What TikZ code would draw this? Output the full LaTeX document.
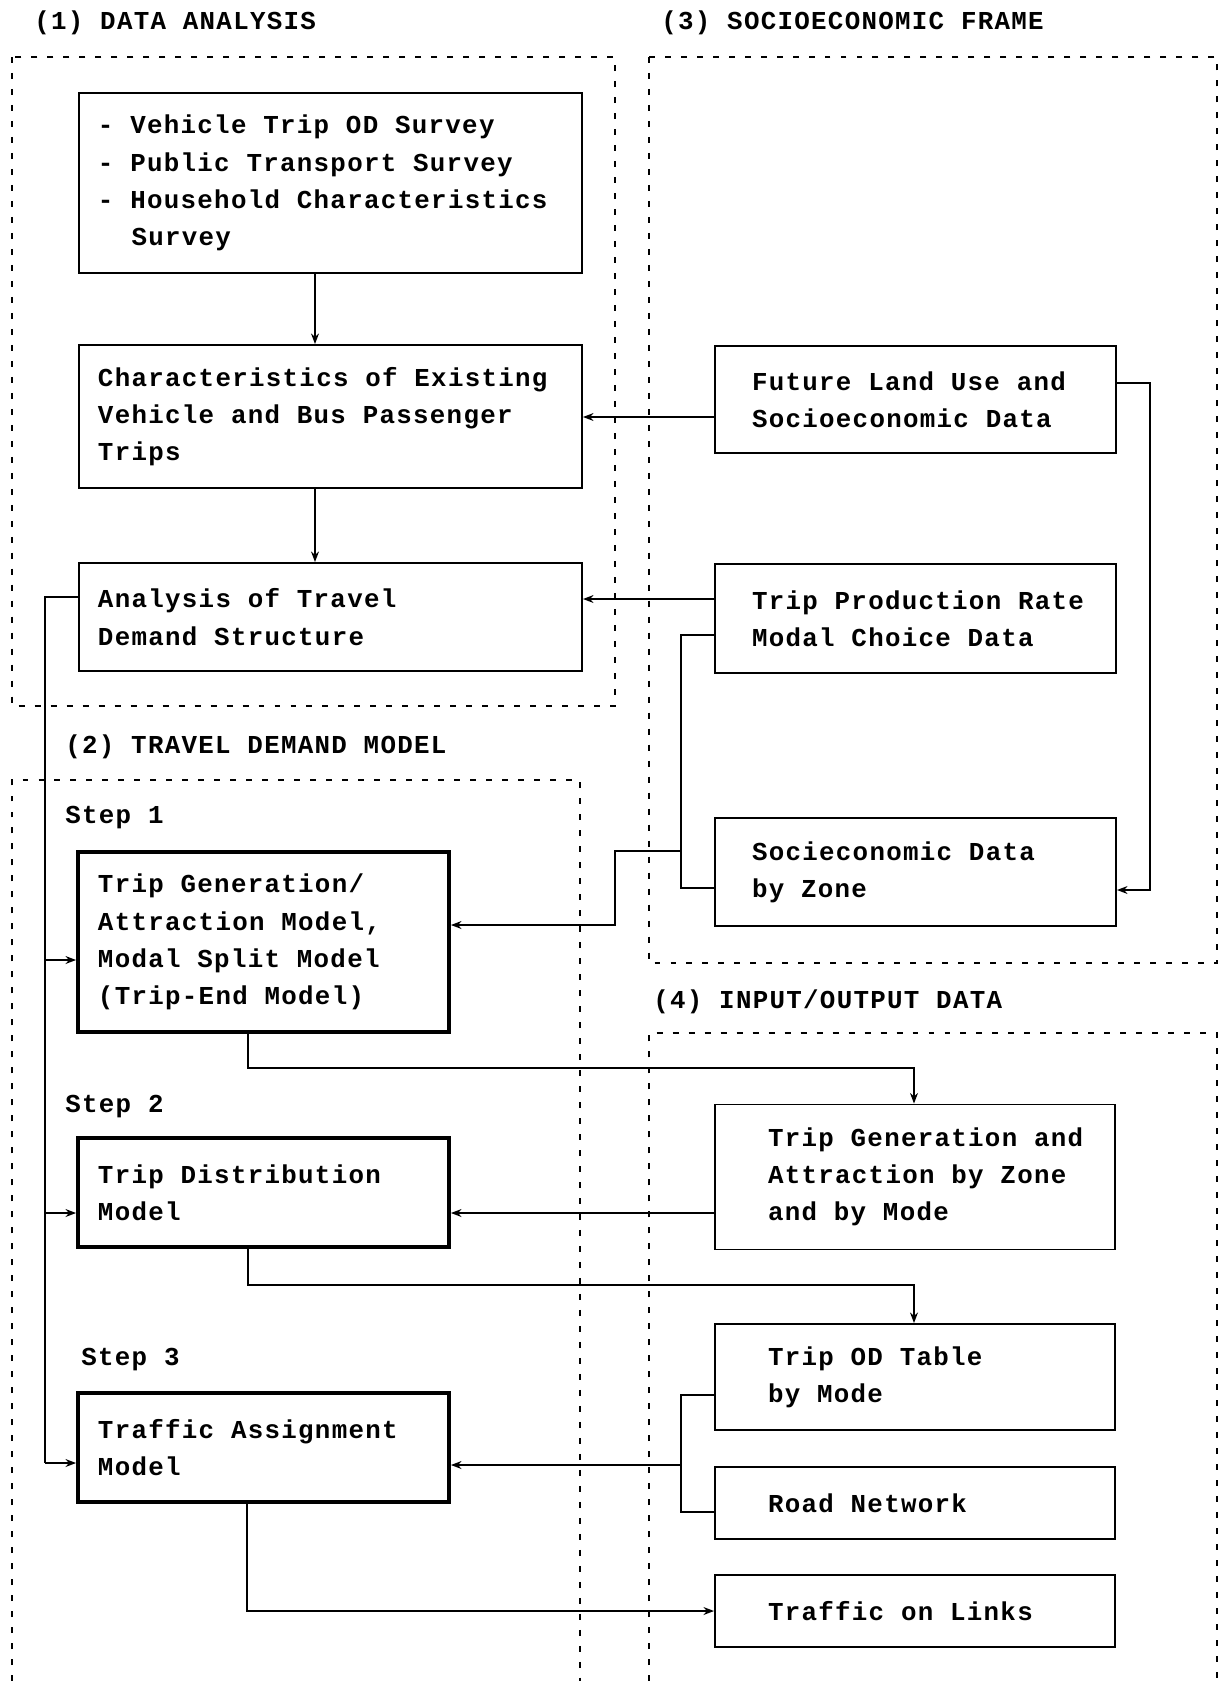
\documentclass[tikz,border=0pt]{standalone}
\usepackage{fontspec}
\newfontfamily\lpfont[LetterSpace=5.0]{Liberation Mono}
\usetikzlibrary{arrows.meta}

\begin{document}
\begin{tikzpicture}[
  font=\lpfont\bfseries\fontsize{14.7pt}{21.2pt}\selectfont,
  >={Stealth[length=6pt,width=4.5pt]},
  pad/.style={execute at begin node={\leftskip=#1\spaceskip=\fontdimen2\font\xspaceskip=\fontdimen2\font\relax}},
  databox/.style={rectangle, draw, line width=1.1pt, align=left, inner xsep=0.2cm, inner ysep=2pt},
  modelbox/.style={rectangle, draw, line width=2.2pt, align=left, inner xsep=0.2cm, inner ysep=2pt,
                   minimum width=7.42cm, minimum height=2.18cm, text width=7.02cm, pad=0.2cm},
  leftbox/.style={databox, minimum width=10.06cm, text width=9.66cm, pad=0.18cm},
  sfbox/.style={databox, minimum width=8.02cm, text width=7.62cm, pad=0.54cm},
  iobox/.style={databox, minimum width=8.0cm, text width=7.6cm, pad=0.86cm},
  head/.style={anchor=west, inner sep=0pt},
  frame/.style={line width=1.1pt, dash pattern=on 3.4pt off 5.7pt},
  ln/.style={line width=0.9pt},
  tr/.style={->, line width=0.9pt},
]
\useasboundingbox (0,0) rectangle (24.42,-33.62);

% dashed frames
\draw[frame] (0.24,-1.14) rectangle (12.3,-14.12);
\draw[frame] (12.98,-1.14) rectangle (24.34,-19.26);
\draw[frame] (0.24,-33.62) -- (0.24,-15.6) -- (11.6,-15.6) -- (11.6,-33.62);
\draw[frame] (12.98,-33.62) -- (12.98,-20.66) -- (24.34,-20.66) -- (24.34,-33.62);

% headings
\node[head] (h1) at (0.68,-0.46)  {(1) DATA ANALYSIS};
\node[head] (h3) at (13.22,-0.46) {(3) SOCIOECONOMIC FRAME};
\node[head] (h2) at (1.3,-14.94)  {(2) TRAVEL DEMAND MODEL};
\node[head] (h4) at (13.06,-20.04) {(4) INPUT/OUTPUT DATA};
\node[head] (s1) at (1.3,-16.36)  {Step 1};
\node[head] (s2) at (1.3,-22.14)  {Step 2};
\node[head] (s3) at (1.62,-27.2)  {Step 3};

% (1) data analysis
\node[leftbox, minimum height=3.6cm] (survey) at (6.61,-3.66)
  {- Vehicle Trip OD Survey\\- Public Transport Survey\\- Household Characteristics\\\hspace*{19.1pt}Survey};
\node[leftbox, minimum height=2.86cm] (chars) at (6.61,-8.33)
  {Characteristics of Existing\\Vehicle and Bus Passenger\\Trips};
\node[leftbox, minimum height=2.16cm] (anal) at (6.61,-12.34)
  {Analysis of Travel\\Demand Structure};

% (3) socioeconomic frame
\node[sfbox, minimum height=2.14cm] (futr) at (18.31,-7.99) {Future Land Use and\\Socioeconomic Data};
\node[sfbox, minimum height=2.18cm] (prod) at (18.31,-12.37) {Trip Production Rate\\Modal Choice Data};
\node[sfbox, minimum height=2.16cm] (zone) at (18.31,-17.44) {Socieconomic Data\\by Zone};

% (2) travel demand model
\node[modelbox, minimum height=3.6cm] (tgm) at (5.27,-18.84)
  {Trip Generation/\\Attraction Model,\\Modal Split Model\\(Trip-End Model)};
\node[modelbox] (tdm) at (5.27,-23.85) {Trip Distribution\\Model};
\node[modelbox] (tam) at (5.27,-28.95) {Traffic Assignment\\Model};

% (4) input/output data
\node[iobox, minimum height=2.9cm]  (gen)   at (18.3,-23.54) {Trip Generation and\\Attraction by Zone\\and by Mode};
\node[iobox, minimum height=2.12cm] (odt)   at (18.3,-27.54) {Trip OD Table\\by Mode};
\node[iobox, minimum height=1.44cm] (road)  at (18.3,-30.06) {Road Network};
\node[iobox, minimum height=1.44cm] (links) at (18.3,-32.22) {Traffic on Links};

% bend points
\coordinate (fb)  at (0.9,-11.94);
\coordinate (fbk) at (0.9,-29.26);
\coordinate (sj)  at (13.62,-17.02);
\coordinate (oj)  at (13.62,-29.3);

\draw[tr] (survey.south -| 6.3,0) -- (chars.north -| 6.3,0);
\draw[tr] (chars.south -| 6.3,0) -- (anal.north -| 6.3,0);
\draw[tr] (futr.west |- 0,-8.34) -- (chars.east |- 0,-8.34);
\draw[tr] (prod.west |- 0,-11.98) -- (anal.east |- 0,-11.98);

% feedback from analysis into the three steps
\draw[ln] (anal.west |- fb) -- (fb) -- (fbk);
\draw[tr] (fb |- 0,-19.2) -- (tgm.west |- 0,-19.2);
\draw[tr] (fb |- 0,-24.26) -- (tdm.west |- 0,-24.26);
\draw[tr] (fbk) -- (tam.west |- fbk);

\draw[ln] (prod.west |- 0,-12.7) -| (13.62,-17.76) -- (zone.west |- 0,-17.76);
\draw[tr] (sj) -| (12.3,-18.5) -- (tgm.east |- 0,-18.5);
\draw[tr] (futr.east |- 0,-7.66) -| (23.0,-17.8) -- (zone.east |- 0,-17.8);

\draw[tr] (tgm.south -| 4.96,0) |- (18.28,-21.36) -- (gen.north -| 18.28,0);
\draw[tr] (gen.west |- 0,-24.26) -- (tdm.east |- 0,-24.26);
\draw[tr] (tdm.south -| 4.96,0) |- (18.28,-25.7) -- (odt.north -| 18.28,0);

\draw[ln] (odt.west |- 0,-27.9) -| (13.62,-30.24) -- (road.west |- 0,-30.24);
\draw[tr] (oj) -- (tam.east |- oj);
\draw[tr] (tam.south -| 4.94,0) |- (links.west);

\end{tikzpicture}
\end{document}
